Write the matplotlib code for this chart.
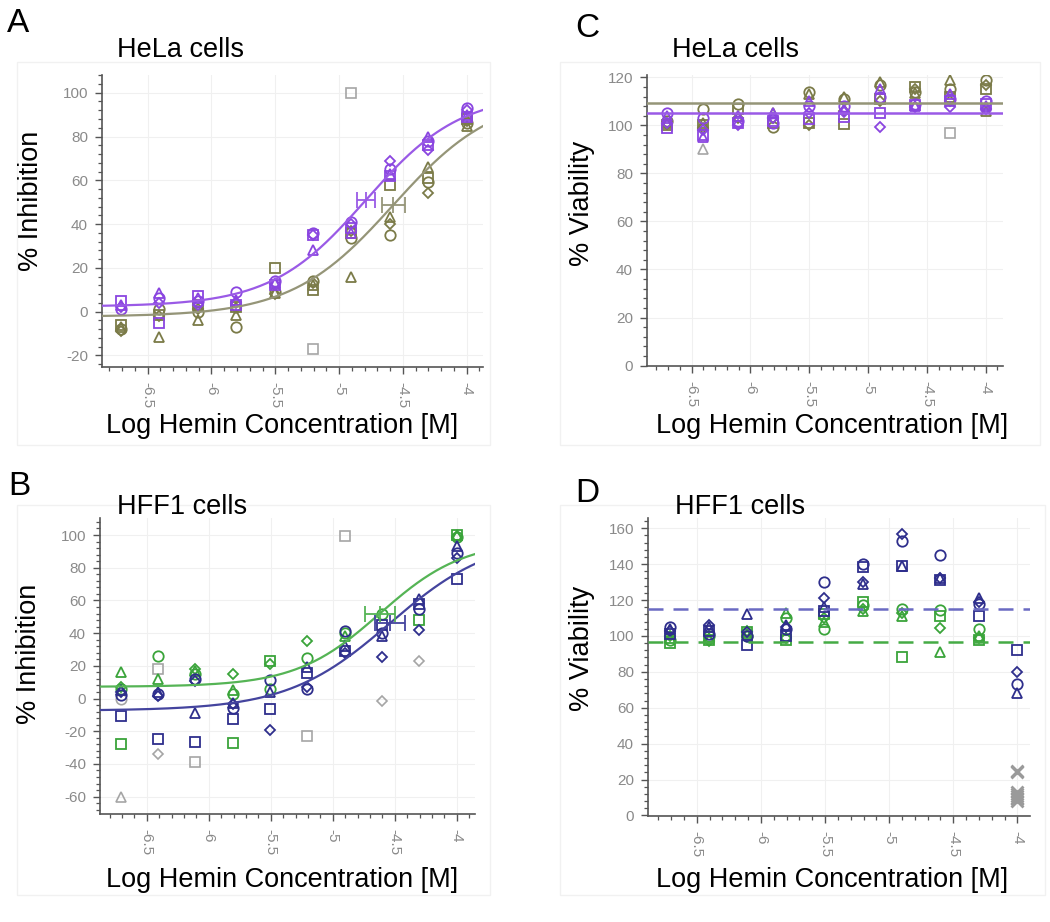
import matplotlib
matplotlib.use('Agg')
import matplotlib.pyplot as plt
import numpy as np
from matplotlib.ticker import MultipleLocator, AutoMinorLocator, FormatStrFormatter

plt.rcParams['font.family'] = ['Liberation Sans', 'DejaVu Sans']
plt.rcParams['axes.unicode_minus'] = False

nan = np.nan
# 2-fold dilution series, log10 molar
log_conc = [-6.709, -6.408, -6.107, -5.806, -5.505, -5.204, -4.903, -4.602, -4.301, -4.0]
marker_kinds = ['o', 's', '^', 'D']  # one replicate per marker: circle, square, triangle, diamond

# A: HeLa inhibition
a_purple = [[1, 6, 5, 9, 14, 36, 41, 65, 78, 93],
            [5, -5, 7, 3, 12, 35, 38, 62, 76, 89],
            [3, 8.5, 6, 5.5, 13, 28, 36, 63, 80, 90],
            [2, 4, 3, 4, 12.5, 35, 40, 69, 74, 92]]
a_olive = [[-8, 1, 0, -7, 9, 14, 33.5, 35, 59, 86],
           [-6, -1.5, 3, 2, 20, 10, 36, 58, 61, 88],
           [-7, -11.5, -3.8, -1.5, 8.5, 12, 16, 43, 66, 85],
           [-9, -2, 1, 1.5, 8, 13, 37, 40, 54, 87]]
a_grey_idx = [5, 6]
a_grey_vals = [-17, 100]
a_grey_marks = ['s', 's']
a_purple_fit = [2.3, 99.7, -4.79, 1.17]   # bottom, top, logIC50, hill
a_olive_fit = [-2.3, 99.7, -4.575, 1.09]
a_ic50_err = [0.07, 0.09]

# B: HFF1 inhibition
b_blue = [[2, 3, 12, -6, 11.5, 6, 41, 40, 55, 89],
          [-10.5, -25, -26.5, -12.7, -6.5, 15.5, 29, 45, 58, 73],
          [5, 4, -9, -2.5, 4, 19, 32, 38, 61, 93],
          [4, 1.7, 11, -3.5, -19.3, 7, 28, 25.7, 42, 86]]
b_green = [[6, 26, 15, 3, 6, 24.5, 40, 52, nan, 99],
           [-27.5, nan, nan, -27, 23, nan, nan, nan, 48, 100],
           [16.5, 12, 17, 5, nan, nan, 38, nan, nan, 100],
           [7, nan, 18, 15, 21, 35, nan, nan, nan, 99]]
b_grey_idx = [0, 0, 1, 1, 2, 5, 6, 7, 8]
b_grey_vals = [-60, 0, 18, -34, -39, -23, 99.4, -1.3, 23]
b_grey_marks = ['^', 'o', 's', 'D', 's', 's', 's', 'D', 'D']
b_green_fit = [7.2, 96.8, -4.62, 1.28]
b_blue_fit = [-7.4, 99.4, -4.54, 1.05]
b_ic50_err = [0.12, 0.12]

# C: HeLa viability
c_purple = [[105, 103, 102, 101, 108, 108, 112, 109, 111, 110],
            [99, 96, 101, 102, 102.5, 103.5, 105, 108.5, 110, 109],
            [104, 95, 104, 105, 110, 107, 115, 108, 113, 108],
            [101, 98, 100, 103, 105, 105.5, 99.5, 107.5, 107.5, 107]]
c_olive = [[102, 107, 109, 99.5, 114, 111, 117, 114, 115, 119],
           [100, 100, 107, 101, 101, 100.5, 111, 116, 112, 115],
           [101, 101, 104, 105, 113, 112, 118, 113.5, 119, 106],
           [100.5, 99, 103, 103, 100, 106, 110, 115, 110, 117]]
c_grey_idx = [1, 8]
c_grey_vals = [90, 97]
c_grey_marks = ['^', 's']
c_olive_mean = 109.4
c_purple_mean = 105.3

# D: HFF1 viability
d_blue = [[105, 101, 100, 104, 130, 140, 153, 145, 118, 73.5],
          [101, 103, 95, 100, 114, 138.5, 139, 131, 111, 92],
          [104, 105, 112, 106, 116, 129, 139, 132.5, 121, 68],
          [103, 106, 102, 105, 121, 130, 157, 132, 119, 80]]
d_green = [[98, 100, 100, 110, 104, 117, 115, 114.5, 104, nan],
           [96, 98, 102, 98, 112, 119, 88, 111, 97.5, nan],
           [99, 99, 101, 113, 108, 114, 111, 91, 100, nan],
           [100, 97, 103, 99, 110, 115, 113, 104.5, 99, nan]]
d_grey_vals = [25, 24, 13, 12, 11, 10, 9, 8]
d_blue_mean = 115.1
d_green_mean = 96.6

purple = '#8a45e0'
purple_line = '#9a5ae6'
olive = '#7b7b48'
olive_line = '#959578'
grey = '#a5a5a5'
green = '#3aa43a'
green_line = '#55b455'
navy = '#2e2e8c'
navy_line = '#44449e'


def logistic(x, p):
    bottom, top, c, h = p
    return bottom + (top - bottom) / (1 + 10 ** ((c - x) * h))


def plot_reps(ax, reps, color):
    for m, vals in zip(marker_kinds, reps):
        ax.plot(log_conc, vals, linestyle='none', marker=m,
                ms=5 if m == 'D' else 7.5, mfc='none', mec=color, mew=1.3, zorder=3)


def plot_grey(ax, idx, vals, marks):
    for i, v, m in zip(idx, vals, marks):
        ax.plot(log_conc[i], v, linestyle='none', marker=m,
                ms=5 if m == 'D' else 7.5, mfc='none', mec=grey, mew=1.2, zorder=2)


def plot_fit(ax, p, color, err):
    xs = np.linspace(ax.get_xlim()[0], ax.get_xlim()[1], 300)
    ax.plot(xs, logistic(xs, p), color=color, lw=1.6, zorder=4)
    mid = (p[0] + p[1]) / 2
    ax.errorbar([p[2]], [mid], xerr=[err], fmt='none', ecolor=color,
                elinewidth=1.3, capsize=6, capthick=1.3, zorder=5)
    ax.plot([p[2]], [mid], marker='|', ms=12, mew=1.3, color=color, zorder=5)


def style(ax, xlim, ylim):
    ax.set_xlim(*xlim)
    ax.set_ylim(*ylim)
    ax.xaxis.set_major_locator(MultipleLocator(0.5))
    ax.xaxis.set_minor_locator(MultipleLocator(0.1))
    ax.yaxis.set_major_locator(MultipleLocator(20))
    ax.yaxis.set_minor_locator(AutoMinorLocator(5))
    ax.xaxis.set_major_formatter(FormatStrFormatter('%g'))
    ax.yaxis.set_major_formatter(FormatStrFormatter('%g'))
    for s in ['top', 'right']:
        ax.spines[s].set_visible(False)
    for s in ['left', 'bottom']:
        ax.spines[s].set_color('#555555')
        ax.spines[s].set_linewidth(1.2)
    ax.grid(True, which='major', color='#f0f0f0', lw=0.8)
    ax.set_axisbelow(True)
    ax.tick_params(which='major', direction='out', length=5, width=1, color='#555555',
                   labelcolor='#8a8a8a', labelsize=11)
    ax.tick_params(which='minor', direction='out', length=3, width=0.9, color='#555555')
    ax.tick_params(axis='y', pad=5)
    ax.tick_params(axis='x', labelrotation=-90, pad=6)


W, H = 1050, 922
fig = plt.figure(figsize=(W / 100, H / 100), dpi=100)


def px_axes(l, r, t, b):
    return fig.add_axes([l / W, 1 - b / H, (r - l) / W, (b - t) / H])


def px_text(x, y, s, **kw):
    fig.text(x / W, 1 - y / H, s, **kw)


# faint panel frames
for (l, t, r, b) in [(17, 62, 490, 445), (560, 62, 1040, 445), (17, 505, 490, 895), (560, 505, 1045, 895)]:
    fig.patches.append(plt.Rectangle((l / W, 1 - b / H), (r - l) / W, (b - t) / H,
                                     transform=fig.transFigure, fill=False,
                                     edgecolor='#f1f1f1', lw=1))

# Panel A
ax = px_axes(102, 483, 75, 367)
style(ax, (-6.858, -3.872), (-25.3, 108.1))
plot_grey(ax, a_grey_idx, a_grey_vals, a_grey_marks)
plot_reps(ax, a_olive, olive)
plot_reps(ax, a_purple, purple)
plot_fit(ax, a_purple_fit, purple_line, a_ic50_err[0])
plot_fit(ax, a_olive_fit, olive_line, a_ic50_err[1])

# Panel C
ax = px_axes(647, 1003, 75, 366)
style(ax, (-6.88, -3.853), (-0.2, 121))
plot_grey(ax, c_grey_idx, c_grey_vals, c_grey_marks)
plot_reps(ax, c_olive, olive)
plot_reps(ax, c_purple, purple)
ax.axhline(c_olive_mean, color=olive_line, lw=1.8, zorder=4)
ax.axhline(c_purple_mean, color=purple_line, lw=1.8, zorder=4)

# Panel B
ax = px_axes(100, 475, 518, 814)
style(ax, (-6.877, -3.853), (-70.6, 110.4))
plot_grey(ax, b_grey_idx, b_grey_vals, b_grey_marks)
plot_reps(ax, b_green, green)
plot_reps(ax, b_blue, navy)
plot_fit(ax, b_green_fit, green_line, b_ic50_err[0])
plot_fit(ax, b_blue_fit, navy_line, b_ic50_err[1])

# Panel D
ax = px_axes(648, 1030, 518, 816)
style(ax, (-6.88, -3.902), (-0.3, 165.7))
ax.plot([log_conc[-1]] * len(d_grey_vals), d_grey_vals, linestyle='none', marker='x',
        ms=9, mew=2, color='#9a9a9a', zorder=2)
plot_reps(ax, d_green, green)
plot_reps(ax, d_blue, navy)
ax.axhline(d_blue_mean, color='#6a6ac2', lw=1.8, ls=(0, (6, 4)), zorder=4)
ax.axhline(d_green_mean, color='#45ab45', lw=1.8, ls=(0, (6, 4)), zorder=4)

# text
for x, y, s in [(7, 32, 'A'), (575, 37, 'C'), (8, 495, 'B'), (575, 502, 'D')]:
    px_text(x, y, s, fontsize=24, va='baseline', ha='left')
for x, y, s in [(117, 57, 'HeLa cells'), (672, 57, 'HeLa cells'),
                (117, 514, 'HFF1 cells'), (675, 514, 'HFF1 cells')]:
    px_text(x, y, s, fontsize=19.5, va='baseline', ha='left')
for x, y, s in [(31, 201, '% Inhibition'), (582, 203, '% Viability'),
                (29, 654, '% Inhibition'), (582, 648, '% Viability')]:
    px_text(x, y, s, fontsize=19.5, rotation=90, va='center', ha='center')
for x, y in [(282, 433), (832, 433), (282, 887), (832, 887)]:
    px_text(x, y, 'Log Hemin Concentration [M]', fontsize=19.5, va='baseline', ha='center')

fig.savefig('out.png', dpi=100)
